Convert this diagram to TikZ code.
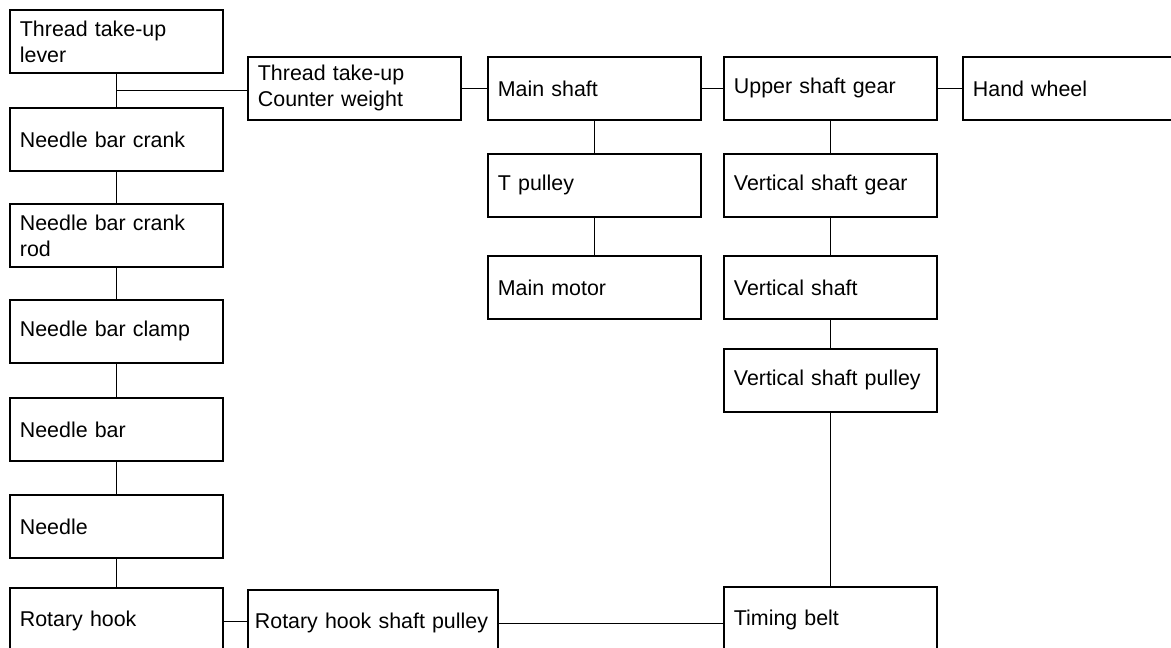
\documentclass[tikz,border=0pt]{standalone}
\usepackage{fontspec}
\setmainfont{Liberation Sans}
\usetikzlibrary{positioning, calc}

\tikzset{
  part/.style={draw, line width=1.8pt, anchor=north west, minimum height=63pt,
    text width=193pt, inner xsep=10pt, inner ysep=0pt, align=left,
    font=\fontsize{21.4}{26}\selectfont},
  widepart/.style={part, text width=236pt, inner xsep=7pt},
  link/.style={line width=1.8pt}
}

\begin{document}
\begin{tikzpicture}[x=1pt, y=-1pt]
\clip (0,0) rectangle (1171,648);

% Needle side column
\node[part] (lever) at (9,9) {Thread take-up\\lever};
\node[part] (crank) at (9,107) {Needle bar crank};
\node[part] (crankrod) at (9,203) {Needle bar crank\\rod};
\node[part] (clamp) at (9,299) {Needle bar clamp};
\node[part] (bar) at (9,397) {Needle bar};
\node[part] (needle) at (9,494) {Needle};
\node[part, minimum height=67pt] (hook) at (9,587) {Rotary hook};

% Top row
\node[part] (counter) at (247,56) {Thread take-up\\Counter weight};
\node[part] (mainshaft) at (487,56) {Main shaft};
\node[part] (uppergear) at (723,56) {Upper shaft gear};
\node[part] (handwheel) at (962,56) {Hand wheel};

% Motor branch
\node[part] (tpulley) at (487,153) {T pulley};
\node[part] (motor) at (487,255) {Main motor};

% Vertical shaft branch
\node[part] (vgear) at (723,153) {Vertical shaft gear};
\node[part] (vshaft) at (723,255) {Vertical shaft};
\node[part] (vpulley) at (723,348) {Vertical shaft pulley};
\node[part, minimum height=67pt] (belt) at (723,586) {Timing belt};

% Bottom row
\node[widepart, minimum height=67pt] (hookpulley) at (247,589) {Rotary hook shaft pulley};

% Connections
\draw[link] (lever) -- (crank) -- (crankrod) -- (clamp) -- (bar) -- (needle) -- (hook);
\coordinate (jct) at ($(lever.south)!0.5!(crank.north)$);
\draw[link] (jct) -- (jct -| counter.west);
\draw[link] (counter) -- (mainshaft) -- (uppergear) -- (handwheel);
\draw[link] (mainshaft) -- (tpulley) -- (motor);
\draw[link] (uppergear) -- (vgear) -- (vshaft) -- (vpulley) -- (belt);
\draw[link] (hook) -- (hook -| hookpulley.west);
\draw[link] (hookpulley) -- (hookpulley -| belt.west);
\end{tikzpicture}
\end{document}
